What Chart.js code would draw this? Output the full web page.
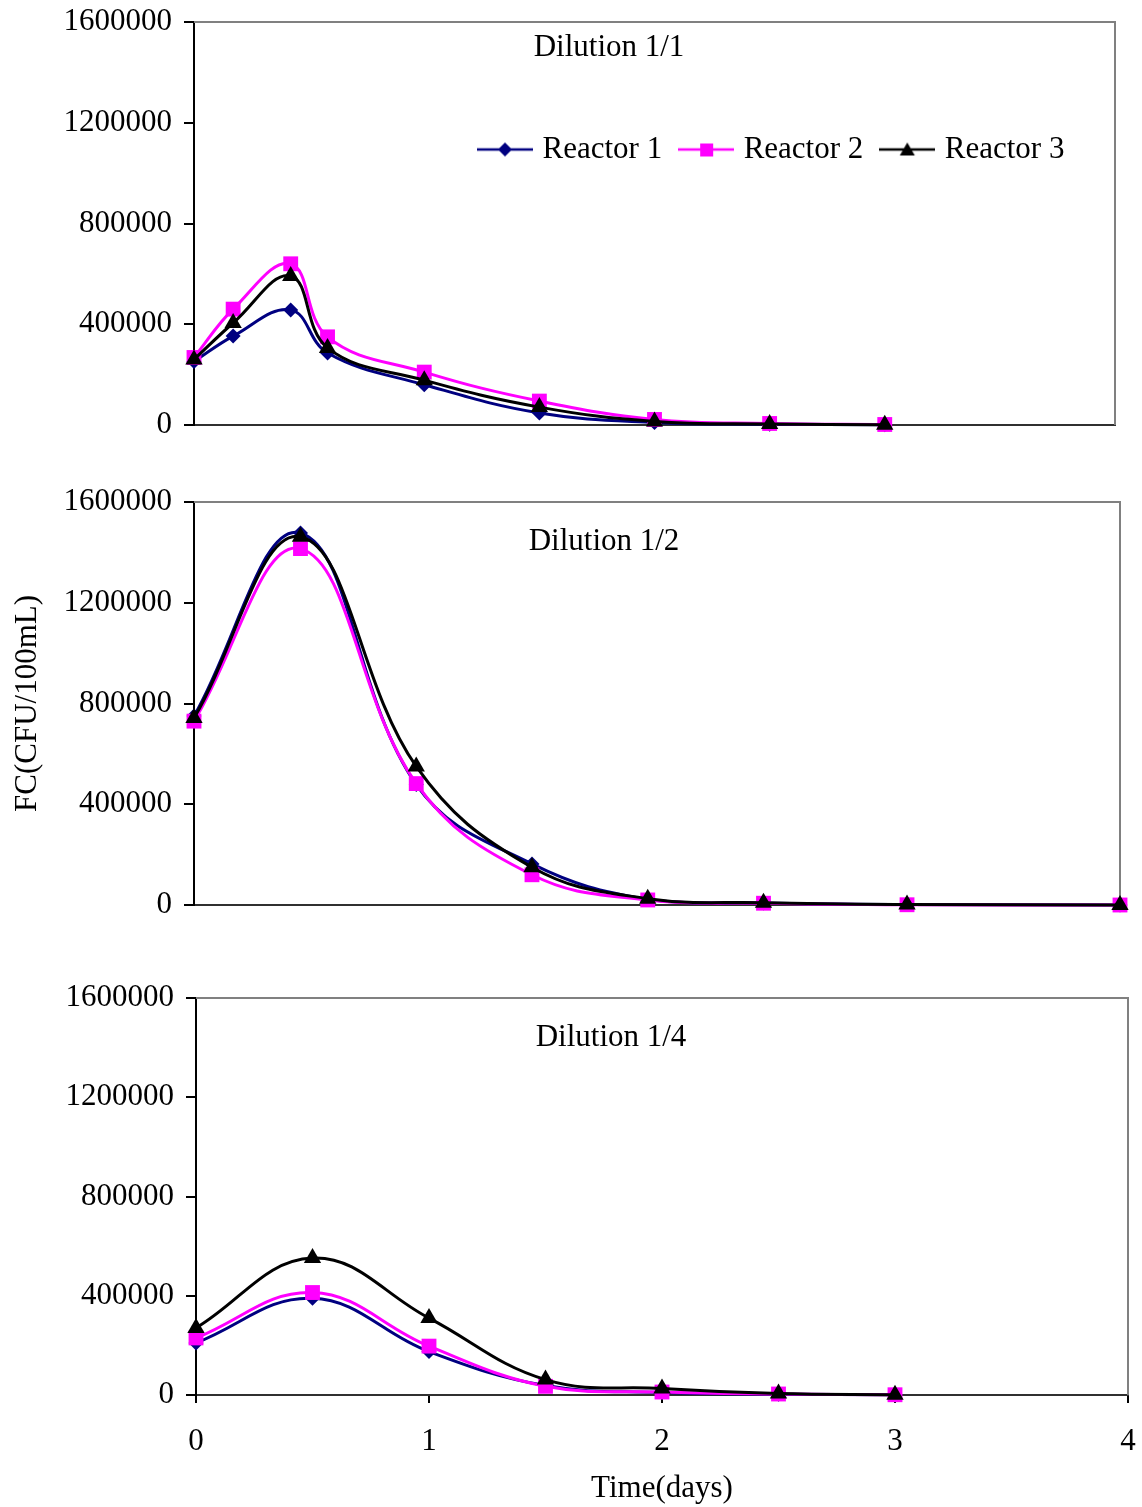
<!DOCTYPE html>
<html>
<head>
<meta charset="utf-8">
<script src="https://cdn.jsdelivr.net/npm/chart.js@4"></script>
<style>
  html, body { margin: 0; padding: 0; background: #fff; }
  body { width: 1142px; height: 1507px; position: relative; overflow: hidden; }
  .panel { position: absolute; left: 0; width: 1142px; }
</style>
</head>
<body>
<div class="panel" style="top:0;height:460px"><canvas id="chart1"></canvas></div>
<div class="panel" style="top:470px;height:470px"><canvas id="chart2"></canvas></div>
<div class="panel" style="top:970px;height:537px"><canvas id="chart3"></canvas></div>
<script>
// Data (time in days, FC in CFU/100mL)
const reactorNames = ['Reactor 1', 'Reactor 2', 'Reactor 3'];

const time1 = [0, 0.17, 0.42, 0.58, 1, 1.5, 2, 2.5, 3];
const dil1Reactor1 = [252000, 353000, 457000, 286000, 160000, 48000, 10000, 3000, 1000];
const dil1Reactor2 = [268000, 460000, 640000, 350000, 210000, 95000, 22000, 6000, 2000];
const dil1Reactor3 = [260000, 405000, 592000, 306000, 178000, 71000, 14000, 4000, 1000];

const time2 = [0, 0.46, 0.96, 1.46, 1.96, 2.46, 3.08, 4];
const dil2Reactor1 = [750000, 1477000, 478000, 163000, 22000, 8000, 2000, 0];
const dil2Reactor2 = [730000, 1415000, 482000, 120000, 20000, 7000, 1000, 0];
const dil2Reactor3 = [742000, 1462000, 550000, 150000, 25000, 9000, 2000, 0];

const time3 = [0, 0.5, 1, 1.5, 2, 2.5, 3];
const dil3Reactor1 = [210000, 390000, 175000, 38000, 10000, 3000, 1000];
const dil3Reactor2 = [230000, 413000, 197000, 35000, 12000, 4000, 1000];
const dil3Reactor3 = [270000, 552000, 310000, 62000, 26000, 6000, 1000];

const yTicks = [0, 400000, 800000, 1200000, 1600000];
const xTicks = [0, 1, 2, 3, 4];

const fontFamily = '"Liberation Serif", "Times New Roman", serif';
const fontSize = 31;
Chart.defaults.font.family = fontFamily;
Chart.defaults.font.size = fontSize;
Chart.defaults.color = '#000';

const seriesStyles = [
    { color: '#000080', pointStyle: 'rectRot', radius: 7.5, order: 3 },
    { color: '#FF00FF', pointStyle: 'rect', radius: 10.5, order: 2 },
    { color: '#000000', pointStyle: 'triangle', radius: 10, order: 1 }
];

// Small line+marker icons for the legend
function legendIcon(color, shape) {
    const c = document.createElement('canvas');
    c.width = 56;
    c.height = 20;
    const g = c.getContext('2d');
    g.strokeStyle = color;
    g.lineWidth = 2.5;
    g.beginPath();
    g.moveTo(0, 10);
    g.lineTo(56, 10);
    g.stroke();
    g.fillStyle = color;
    g.beginPath();
    if (shape === 'rectRot') {
        g.moveTo(28, 3); g.lineTo(35, 10); g.lineTo(28, 17); g.lineTo(21, 10);
    } else if (shape === 'rect') {
        g.rect(22, 4, 13, 13);
    } else {
        g.moveTo(28, 3); g.lineTo(35.5, 16); g.lineTo(20.5, 16);
    }
    g.closePath();
    g.fill();
    return c;
}
const legendIcons = seriesStyles.map(s => legendIcon(s.color, s.pointStyle));

// Grey top/right frame of the plot area
const frame = {
    id: 'frame',
    beforeDatasetsDraw(chart) {
        const { ctx, chartArea: a } = chart;
        ctx.save();
        ctx.strokeStyle = '#808080';
        ctx.lineWidth = 2;
        ctx.beginPath();
        ctx.moveTo(a.left, a.top);
        ctx.lineTo(a.right, a.top);
        ctx.lineTo(a.right, a.bottom);
        ctx.stroke();
        ctx.restore();
    }
};

// "Dilution 1/x" label inside the plot area
const panelLabel = {
    id: 'panelLabel',
    afterDraw(chart, args, opts) {
        if (!opts.text) return;
        const ctx = chart.ctx;
        ctx.save();
        ctx.font = fontSize + 'px ' + fontFamily;
        ctx.fillStyle = '#000';
        ctx.textAlign = 'center';
        ctx.textBaseline = 'middle';
        ctx.fillText(opts.text, opts.x, opts.y);
        ctx.restore();
    }
};

// Put the legend inside the plot area, where it sits in the figure
const legendPlace = {
    id: 'legendPlace',
    afterLayout(chart, args, opts) {
        const lg = chart.legend;
        if (lg && opts.left !== undefined) {
            lg.left = opts.left;
            lg.top = opts.top;
            lg.right = chart.width;
            lg.bottom = opts.top + 80;
            lg.width = lg.right - lg.left;
            lg.height = 80;
        }
    }
};

function points(xs, ys) {
    return xs.map((x, i) => ({ x, y: ys[i] }));
}

function noScalePadding(s) {
    s.paddingTop = 0;
    s.paddingBottom = 0;
    s.paddingLeft = 0;
    s.paddingRight = 0;
}

function makePanel(id, times, values, p) {
    const datasets = values.map((ys, i) => {
        const s = seriesStyles[i];
        return {
            label: reactorNames[i],
            data: points(times, ys),
            borderColor: s.color,
            backgroundColor: s.color,
            borderWidth: 3,
            pointStyle: s.pointStyle,
            pointRadius: s.radius,
            pointBackgroundColor: s.color,
            pointBorderColor: s.color,
            pointBorderWidth: 0,
            tension: 0.4,
            clip: false,
            order: s.order
        };
    });

    new Chart(document.getElementById(id), {
        type: 'line',
        data: { datasets },
        options: {
            responsive: true,
            maintainAspectRatio: false,
            animation: false,
            layout: { padding: { top: p.top, right: p.right, left: 0, bottom: 0 } },
            scales: {
                x: {
                    type: 'linear',
                    min: 0,
                    max: 4,
                    afterBuildTicks: s => { s.ticks = xTicks.map(v => ({ value: v })); },
                    ticks: { display: p.showX, padding: 20, callback: v => String(v) },
                    grid: { display: p.showX, drawOnChartArea: false, tickLength: 8, color: '#000', lineWidth: 2 },
                    border: { color: '#303030', width: 2 },
                    title: { display: p.showX, text: 'Time(days)', padding: { top: 0, bottom: 0 } },
                    afterFit: s => { s.height = p.xHeight; noScalePadding(s); }
                },
                y: {
                    min: 0,
                    max: 1600000,
                    afterBuildTicks: s => { s.ticks = yTicks.map(v => ({ value: v })); },
                    ticks: { padding: 12, callback: v => String(v) },
                    grid: { drawOnChartArea: false, tickLength: 10, color: '#000', lineWidth: 2 },
                    border: { color: '#000', width: 2 },
                    title: { display: p.showY, text: 'FC(CFU/100mL)', padding: { top: 9, bottom: 0 } },
                    afterFit: s => { s.width = p.left; noScalePadding(s); }
                }
            },
            plugins: {
                legend: {
                    display: p.showLegend,
                    position: 'top',
                    align: 'start',
                    maxHeight: 1,
                    labels: {
                        usePointStyle: true,
                        pointStyleWidth: 44,
                        padding: 22,
                        color: '#000',
                        sort: (a, b) => a.datasetIndex - b.datasetIndex,
                        generateLabels(chart) {
                            const items = Chart.defaults.plugins.legend.labels.generateLabels(chart);
                            items.forEach(it => {
                                it.pointStyle = legendIcons[it.datasetIndex];
                                it.rotation = 0;
                            });
                            return items;
                        }
                    }
                },
                legendPlace: p.showLegend ? { left: 461, top: 112 } : {},
                tooltip: { enabled: false },
                panelLabel: { text: p.label, x: p.labelX, y: p.labelY }
            }
        },
        plugins: [frame, panelLabel, legendPlace]
    });
}

makePanel('chart1', time1, [dil1Reactor1, dil1Reactor2, dil1Reactor3], {
    top: 21, right: 27, left: 194, xHeight: 35,
    showX: false, showY: false, showLegend: true,
    label: 'Dilution 1/1', labelX: 609, labelY: 48
});
makePanel('chart2', time2, [dil2Reactor1, dil2Reactor2, dil2Reactor3], {
    top: 32, right: 22, left: 194, xHeight: 35,
    showX: false, showY: true, showLegend: false,
    label: 'Dilution 1/2', labelX: 604, labelY: 72
});
makePanel('chart3', time3, [dil3Reactor1, dil3Reactor2, dil3Reactor3], {
    top: 28, right: 14, left: 196, xHeight: 112,
    showX: true, showY: false, showLegend: false,
    label: 'Dilution 1/4', labelX: 611, labelY: 68
});
</script>
</body>
</html>
